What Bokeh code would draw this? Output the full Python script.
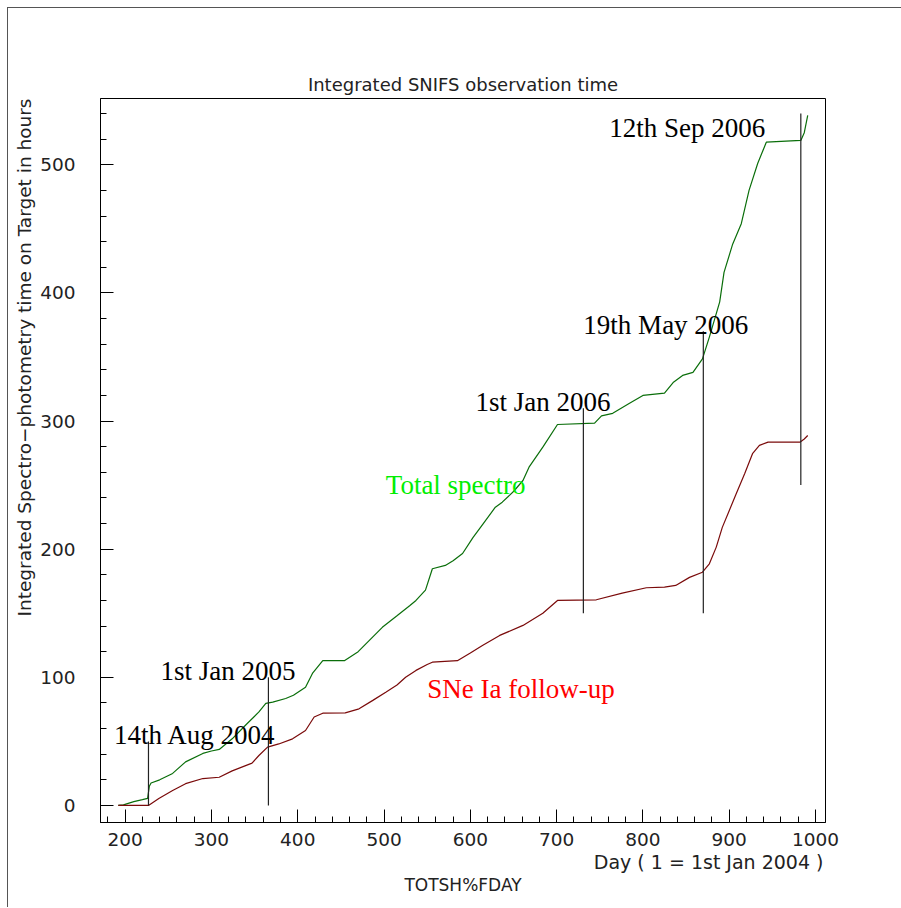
from bokeh.plotting import figure
from bokeh.models import Range1d, SingleIntervalTicker, Title, ColumnDataSource
from bokeh.core.properties import value
from bokeh.embed import file_html
from bokeh.resources import INLINE

# ---- data ----
total_days = [192, 198, 210, 220, 226, 228, 230, 240, 255, 270, 290, 300, 309, 324, 340, 355,
              363, 371, 386, 395, 409, 417, 429, 454, 470, 483, 498, 515, 530, 537, 548, 556,
              571, 580, 591, 603, 615, 629, 637, 650, 661, 668, 684, 701, 744, 752, 765, 784,
              800, 825, 835, 846, 858, 869, 877, 889, 894, 904, 914, 923, 933, 943, 983, 987, 991]
total_hours = [0, 0.5, 3, 4.5, 5.5, 15, 17.5, 20, 25, 34, 40.6, 42.5, 43.7, 52, 63, 73,
               79.6, 80.6, 83.5, 86, 92.3, 103, 113, 113, 120, 128.8, 139, 148, 156, 160, 168, 184.7,
               187.3, 191, 196.6, 209, 220, 232.8, 236.7, 245, 253.6, 264, 279.6, 297.3, 298.3, 304, 306, 313.7,
               320, 321.8, 330, 335.6, 338, 348.5, 365.5, 393, 416, 438, 454, 480, 501, 517.6, 519, 525, 538.5]

snia_days = [192, 227, 239, 255, 270, 290, 309, 324, 347, 355, 365, 378, 394, 409, 419, 429,
             455, 471, 487, 502, 515, 525, 537, 550, 556, 585, 600, 614, 634, 661, 684, 701,
             746, 776, 804, 825, 838, 854, 869, 877, 885, 892, 900, 908, 918, 927, 935, 945,
             982, 987, 991]
snia_hours = [0, 0, 5.5, 11.7, 17, 21, 22, 27, 33, 39, 45.5, 48, 52, 58.5, 69, 72,
              72.3, 75.4, 82, 88.4, 94, 100, 105.4, 110, 111.8, 113, 119, 124.9, 132.7, 140.5, 150, 160,
              160.5, 165.7, 169.9, 170.4, 171.7, 178, 182, 188.6, 201.6, 217, 230, 243, 259, 274.5, 281, 283.5,
              283.5, 286, 288.7]

marker_days = [227, 366, 731, 870, 983]
marker_low = [0, 0, 150, 150, 250]
marker_high = [50, 100, 310, 370, 540]

date_labels = ["14th Aug 2004", "1st Jan 2005", "1st Jan 2006", "19th May 2006", "12th Sep 2006"]
date_label_x = [187, 241, 606, 731, 761]
date_label_y = [54.6, 104.8, 314.5, 374.6, 529]

series_labels = ["Total spectro", "SNe Ia follow-up"]
series_label_x = [502, 550]
series_label_y = [250, 91]
series_label_colors = ["#00ee00", "#ff0000"]

title_text = "Integrated SNIFS observation time"
x_title = "Day ( 1 = 1st Jan 2004 )"
x_subtitle = "TOTSH%FDAY"
y_title = "Integrated Spectro\u2212photometry time on Target in hours"

SANS = "DejaVu Sans"
SERIF = "Liberation Serif"

p = figure(frame_width=725, frame_height=724,
           min_border_left=90, min_border_right=78, min_border_top=90, min_border_bottom=86,
           x_range=Range1d(171.4, 1011.6), y_range=Range1d(-13.3, 551.7),
           output_backend="svg", toolbar_location=None,
           background_fill_color="white", border_fill_color="white",
           outline_line_color="black", outline_line_width=1)
p.styles = {"margin-left": "8px", "margin-top": "8px", "box-shadow": "-1px -1px 0 0 #555555"}

p.grid.visible = False

# title
p.title.text = title_text
p.title.align = "center"
p.title.text_font = SANS
p.title.text_font_size = "18px"
p.title.text_font_style = "normal"
p.title.text_color = "#222222"
p.title.standoff = 8

for ax in (p.xaxis[0], p.yaxis[0]):
    ax.ticker = SingleIntervalTicker(interval=100, num_minor_ticks=5)
    ax.axis_line_color = "black"
    ax.major_tick_line_color = "black"
    ax.minor_tick_line_color = "black"
    ax.major_tick_in = 13
    ax.major_tick_out = 0
    ax.minor_tick_in = 6
    ax.minor_tick_out = 0
    ax.major_label_text_font = SANS
    ax.major_label_text_font_size = "18.5px"
    ax.major_label_text_color = "#222222"

p.xaxis.major_label_standoff = 10
p.yaxis.major_label_standoff = 25

p.add_layout(Title(text=x_title, align="right", text_font=SANS, text_font_size="19px",
                   text_font_style="normal", text_color="#222222", offset=2, standoff=0), "below")
p.add_layout(Title(text=x_subtitle, align="center", text_font=SANS, text_font_size="17px",
                   text_font_style="normal", text_color="#222222", standoff=0), "below")
p.add_layout(Title(text=y_title, align="right", text_font=SANS, text_font_size="18.5px",
                   text_font_style="normal", text_color="#222222", offset=0, standoff=6), "left")

# curves
p.line(total_days, total_hours, line_color="#0a6e0a", line_width=1.2)
p.line(snia_days, snia_hours, line_color="#7a0a0a", line_width=1.2)

# date markers
p.segment(x0=marker_days, y0=marker_low, x1=marker_days, y1=marker_high,
          line_color="#222222", line_width=1.2)

src = ColumnDataSource(dict(x=date_label_x, y=date_label_y, t=date_labels))
p.text(x="x", y="y", text="t", source=src, text_font=value(SERIF), text_font_size="27px",
       text_color="black", text_align="left", text_baseline="alphabetic")

src2 = ColumnDataSource(dict(x=series_label_x, y=series_label_y, t=series_labels, c=series_label_colors))
p.text(x="x", y="y", text="t", source=src2, text_font=value(SERIF), text_font_size="27px",
       text_color="c", text_align="left", text_baseline="alphabetic")

open("out.html", "w").write(file_html(p, INLINE))
